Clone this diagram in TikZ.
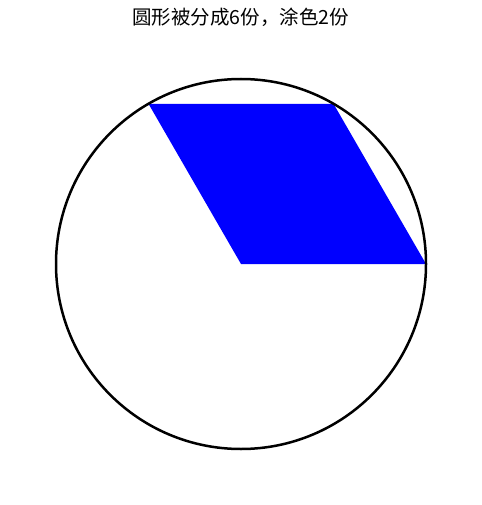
\documentclass[tikz,border=0pt]{standalone}
\usepackage{fontspec}
\newfontfamily\cjk{Noto Sans CJK SC}
\begin{document}
\begin{tikzpicture}[x=1pt,y=-1pt,
  ring/.style={draw=black,line width=2.5pt},
  part/.style={fill=blue,draw=none},
  titletext/.style={font=\cjk\fontsize{19.5}{22}\selectfont,inner sep=0pt}]
\useasboundingbox (0,0) rectangle (481,505);
\coordinate (o) at (241,264);
\coordinate (p0) at (426,264);
\coordinate (p60) at (333.5,103.8);
\coordinate (p120) at (148.5,103.8);
\fill[part] (o) -- (p0) -- (p60) -- (p120) -- cycle;
\draw[ring] (o) circle[radius=185];
\node[titletext] (title) at (240.5,17) {圆形被分成6份，涂色2份};
\end{tikzpicture}
\end{document}
